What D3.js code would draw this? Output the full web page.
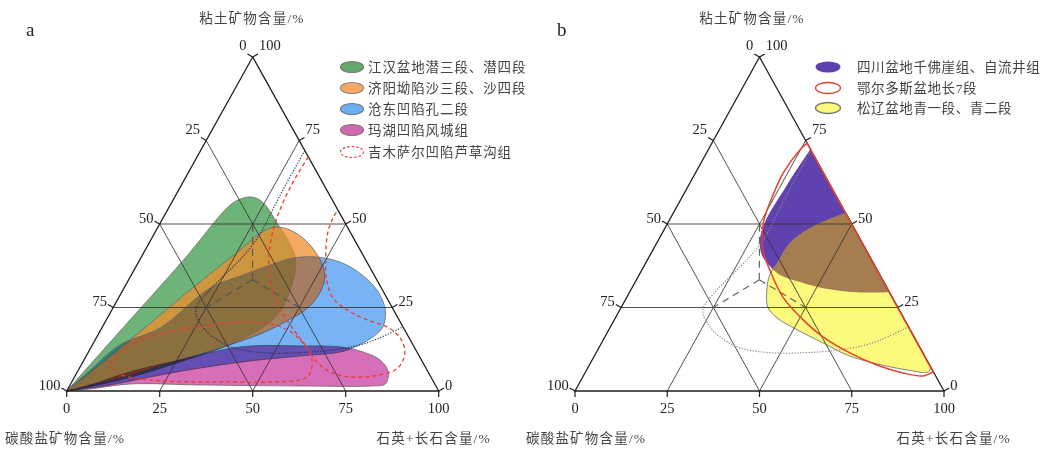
<!DOCTYPE html>
<html><head><meta charset="utf-8">
<script src="https://cdn.jsdelivr.net/npm/d3@7"></script>
<style>body{margin:0;background:#fff}svg{display:block}</style>
</head><body>
<svg id="chart" width="1045" height="456"></svg>
<script>
// ---------------- data ----------------
const tickValues = [0, 25, 50, 75, 100];
const gridValues = [25, 50];
const titleTop = "粘土矿物含量/%";
const titleLeft = "碳酸盐矿物含量/%";
const titleRight = "石英+长石含量/%";
const panelLabels = ["a", "b"];
const legendNamesA = ["江汉盆地潜三段、潜四段", "济阳坳陷沙三段、沙四段", "沧东凹陷孔二段", "玛湖凹陷风城组", "吉木萨尔凹陷芦草沟组"];
const legendNamesB = ["四川盆地千佛崖组、自流井组", "鄂尔多斯盆地长7段", "松辽盆地青一段、青二段"];

// every point: [石英+长石 %, 粘土矿物 %]  (碳酸盐 = 100 - both)
const jianghan = [[0,0],[6,20],[12,40],[16,55.5],[18,57.5],[20.3,58.1],[22.7,57.5],[25.9,55.4],[28.9,52.7],[32,49.7],[35.3,46.7],[39.7,42.2],[42.3,38.6],[45,30],[45,22],[39,15.3],[26,8.7],[12.7,3.3],[0,0]];
const jiyang = [[0,0],[9.4,15.3],[18,30.2],[25.5,42.2],[28.7,47.6],[31.4,49.1],[35.9,48.2],[40.6,45.8],[45.4,42.2],[49.4,38.3],[52.5,33.8],[53.3,28.4],[52,24.3],[48.4,20.7],[43.5,17.1],[34.8,12.9],[23.6,8.4],[12.4,3.9],[0,0]];
const cangdong = [[0,0],[3.2,6.3],[7.4,13.8],[15.7,18.9],[23.1,30.8],[30,34.7],[35.8,37.7],[40.9,39.8],[47.2,40.1],[54.2,38.6],[61.1,35.3],[68.3,30.2],[73.5,24.3],[75.4,19.2],[74.2,16.2],[70.9,13.2],[67.7,11.7],[57.5,10.5],[44.8,9],[32.4,6.9],[20.3,4.2],[10.7,1.8],[0,0]];
const mahu = [[0,0],[5.4,1.8],[14.2,5.7],[25.9,9.3],[40,13.2],[56,13.5],[66.9,13.2],[72.8,12],[79.6,9.3],[83.6,5.7],[84.6,2.1],[80.8,1.5],[62,1.5],[34.9,1.8],[16,2.1],[6,0.6],[0,0]];
const jimusarEast = [[29.9,70.1],[29.6,64.7],[29.7,59.6],[30.2,54.2],[31.4,48.2],[34,40.7],[38.1,33.2],[43.9,25.7],[51.2,18.9],[57.2,13.8],[62.1,9.3],[68,5.7],[74,4.2],[81.8,4.8],[85.6,6.9],[85.2,11.4],[81.7,15.9],[76.5,19.2],[70.1,21.3],[63.2,24.3],[57.7,27.8],[53.3,33.2],[49.6,40.1],[46.5,47.3],[45.7,51.8],[45.8,54.2]];
const jimusarWest = [[8,7.8],[10.6,14.4],[19,17.7],[28.6,19.8],[39,20.7],[48.8,18.9],[55.1,15.3],[61.3,9.3],[62.5,4.2],[53.4,2.7],[43.4,2.7],[20.8,3.3],[10.8,5.4]];
const refZone = [[28,72],[28,62],[28.2,54.2],[28.5,47.6],[27.8,42.2],[26.1,37.1],[23,29.3],[22.5,24.3],[25.6,20.4],[31.2,16.2],[38.3,12.9],[48.1,11.4],[57,11.5],[65.5,12.3],[73.5,14.4],[80.8,19.2]];
const zoneCenter = [33.3, 33.3];
const zoneEnds = [[25,50],[25,25],[50,25]];
const sichuan = [[27.6,72.2],[26.6,61.7],[26.2,50.6],[27.5,45.2],[30.3,40.7],[34.1,37.4],[38.2,34.7],[44.7,32.6],[51.8,30.8],[61.6,29.6],[70.3,29.6]];
const songliao = [[46.8,53.3],[41.9,50.6],[38.8,48.2],[36.1,44.3],[35.7,38.6],[35.4,34.7],[36.9,30.2],[39.7,25.1],[43.8,21.9],[51.1,18.3],[60,14.4],[68.3,10.8],[76.6,8.4],[86.9,6.3],[92.9,5.7],[92.8,7.2]];
const ordos = [[25.8,74.2],[24.9,72.2],[23.8,65.3],[24.4,58.1],[25.6,51.2],[28.1,45.2],[29.8,42.2],[34.7,36.2],[42.3,28.1],[49.9,22.2],[59.1,16.2],[68.8,11.4],[77.9,7.8],[86.2,5.4],[92.1,4.5],[94.2,5.7]];

// ---------------- drawing ----------------
const svg = d3.select("#chart");
svg.append("rect").attr("width", 1045).attr("height", 456).attr("fill", "#fff");
const defs = svg.append("defs");
const numFont = "'Liberation Serif', serif";
const txtFont = "'Liberation Serif','Noto Sans CJK SC',serif";

function panel(range) {
  const X = d3.scaleLinear().domain([0, 100]).range(range);
  const Y = d3.scaleLinear().domain([0, 100]).range([391, 57]);
  const P = d => [X(d[0] + d[1] / 2), Y(d[1])];
  const g = svg.append("g");
  const open = d3.line().curve(d3.curveCatmullRom.alpha(0.5));
  const closed = d3.line().curve(d3.curveCatmullRomClosed.alpha(0.5));
  return {X, Y, P, g, open, closed, region: pts => open(pts.map(P)) + "Z"};
}

function frame(p, opt) {
  const {g, P} = p;
  const segs = [];
  gridValues.forEach(v => {
    segs.push([[0, v], [100 - v, v]]);
    segs.push([[0, 100 - v], [100 - v, 0]]);
    segs.push([[v, 0], [v, 100 - v]]);
  });
  g.append("g").selectAll("line").data(segs).join("line")
    .attr("x1", d => P(d[0])[0]).attr("y1", d => P(d[0])[1])
    .attr("x2", d => P(d[1])[0]).attr("y2", d => P(d[1])[1])
    .attr("stroke", "#333").attr("stroke-opacity", 0.85).attr("stroke-width", 1);
  g.append("path").attr("d", d3.line()([[0,0],[100,0],[0,100]].map(P)) + "Z")
    .attr("fill", "none").attr("stroke", "#1e1e1e").attr("stroke-width", 1.3);
  const BL = P([0,0]), BR = P([100,0]), T = P([0,100]), cen = P(zoneCenter);
  function normal(a, b) {
    const dx = b[0]-a[0], dy = b[1]-a[1], L = Math.hypot(dx, dy);
    let n = [dy/L, -dx/L];
    const m = [(a[0]+b[0])/2, (a[1]+b[1])/2];
    if ((cen[0]-m[0])*n[0] + (cen[1]-m[1])*n[1] > 0) n = [-n[0], -n[1]];
    return n;
  }
  const nL = normal(BL, T), nR = normal(BR, T), nB = [0, 1];
  const len = 6;
  const ticks = [];
  tickValues.forEach(t => {
    ticks.push({side: "b", v: t, p: P([t, 0]), n: nB, c: 0});
    ticks.push({side: "l", v: t, p: P([0, 100 - t]), n: nL, c: 100 - t});
    ticks.push({side: "r", v: t, p: P([100 - t, t]), n: nR, c: t});
  });
  g.append("g").selectAll("line").data(ticks).join("line")
    .attr("x1", d => d.p[0]).attr("y1", d => d.p[1])
    .attr("x2", d => d.p[0] + d.n[0]*len).attr("y2", d => d.p[1] + d.n[1]*len)
    .attr("stroke", "#1e1e1e").attr("stroke-width", 1.2);
  g.append("g").selectAll("text").data(ticks).join("text")
    .attr("x", d => d.side === "b" ? d.p[0] : d.p[0] + d.n[0]*len + (d.side === "l" ? -1 : 1))
    .attr("y", d => d.side === "b" ? 413 : d.p[1] + d.n[1]*len + (d.c >= 75 ? -4 : 1.5))
    .attr("text-anchor", d => d.side === "b" ? "middle" : d.side === "l" ? "end" : "start")
    .attr("font-family", numFont).attr("font-size", 14.5).attr("fill", "#222")
    .text(d => d.v);
  g.append("text").attr("x", opt.topX).attr("y", 23).attr("text-anchor", "middle")
    .attr("font-family", txtFont).attr("font-size", 13.5).attr("letter-spacing", 1.2).attr("fill", "#444").text(titleTop);
  g.append("text").attr("x", opt.leftX).attr("y", 443)
    .attr("font-family", txtFont).attr("font-size", 13.5).attr("letter-spacing", 1.2).attr("fill", "#444").text(titleLeft);
  g.append("text").attr("x", opt.rightX).attr("y", 443).attr("text-anchor", "end")
    .attr("font-family", txtFont).attr("font-size", 13.5).attr("letter-spacing", 1.2).attr("fill", "#444").text(titleRight);
  g.append("text").attr("x", opt.labelX).attr("y", 36)
    .attr("font-family", numFont).attr("font-size", 19).attr("fill", "#222").text(opt.label);
}

function zoneLines(p, color, dotColor) {
  const {g, P} = p;
  g.append("g").selectAll("line").data(zoneEnds).join("line")
    .attr("x1", P(zoneCenter)[0]).attr("y1", P(zoneCenter)[1])
    .attr("x2", d => P(d)[0]).attr("y2", d => P(d)[1])
    .attr("stroke", color).attr("stroke-width", 1.2).attr("stroke-dasharray", "7,5");
  g.append("path").attr("d", p.open(refZone.map(P)))
    .attr("fill", "none").attr("stroke", dotColor).attr("stroke-width", 1.2).attr("stroke-dasharray", "1.2,1.6");
}

// ---------- panel a ----------
const A = panel([66.7, 438.7]);
const colA = {
  green: "rgb(110,180,120)", orange: "rgb(241,138,42)", blue: "rgb(120,180,245)",
  blueOverOrange: "rgb(172,188,252)", pink: "rgb(215,110,185)"
};
const orangePath = A.region(jiyang);
defs.append("clipPath").attr("id", "inOrange").append("path").attr("d", orangePath);
const m = defs.append("mask").attr("id", "outOrange").attr("maskUnits", "userSpaceOnUse")
  .attr("x", 0).attr("y", 0).attr("width", 1045).attr("height", 456);
m.append("rect").attr("width", 1045).attr("height", 456).attr("fill", "#fff");
m.append("path").attr("d", orangePath).attr("fill", "#000");

A.g.append("path").attr("d", A.region(jianghan)).attr("fill", colA.green).attr("stroke", "#6a6a6a").attr("stroke-width", 0.8);
A.g.append("path").attr("d", orangePath).attr("fill", colA.orange).attr("fill-opacity", 0.73).attr("stroke", "#6a6a6a").attr("stroke-width", 0.8);
const bluePath = A.region(cangdong);
A.g.append("path").attr("d", bluePath).attr("fill", colA.blue).attr("mask", "url(#outOrange)").style("mix-blend-mode", "multiply");
A.g.append("path").attr("d", bluePath).attr("fill", colA.blueOverOrange).attr("clip-path", "url(#inOrange)").style("mix-blend-mode", "multiply");
A.g.append("path").attr("d", bluePath).attr("fill", "none").attr("stroke", "#6a6a6a").attr("stroke-width", 0.8);
A.g.append("path").attr("d", A.region(mahu)).attr("fill", colA.pink).attr("stroke", "#6a6a6a").attr("stroke-width", 0.8).style("mix-blend-mode", "multiply");
frame(A, {topX: 252, leftX: 5, rightX: 491, labelX: 26, label: panelLabels[0]});
zoneLines(A, "#555", "#2a2f55");
A.g.append("path").attr("d", A.open(jimusarEast.map(A.P))).attr("fill", "none").attr("stroke", "#ea3b2e").attr("stroke-width", 1.3).attr("stroke-dasharray", "4,3");
A.g.append("path").attr("d", A.closed(jimusarWest.map(A.P))).attr("fill", "none").attr("stroke", "#ea3b2e").attr("stroke-width", 1.3).attr("stroke-dasharray", "4,3");

const legA = A.g.append("g");
const swA = [
  {fill: "rgb(100,168,110)", stroke: "#777", dash: null},
  {fill: "rgb(245,168,98)", stroke: "#888", dash: null},
  {fill: "rgb(108,174,242)", stroke: "#777", dash: null},
  {fill: "rgb(208,104,178)", stroke: "#777", dash: null},
  {fill: "#fff", stroke: "#ea3b2e", dash: "2.5,2"}
];
const rowYA = [67, 88, 109, 130, 152];
legendNamesA.forEach((name, i) => {
  legA.append("ellipse").attr("cx", 352).attr("cy", rowYA[i]).attr("rx", 11.5).attr("ry", 5.5)
    .attr("fill", swA[i].fill).attr("stroke", swA[i].stroke).attr("stroke-width", 1.1)
    .attr("stroke-dasharray", swA[i].dash);
  legA.append("text").attr("x", 368).attr("y", rowYA[i] + 5)
    .attr("font-family", txtFont).attr("font-size", 13.5).attr("letter-spacing", 0.9).attr("fill", "#444").text(name);
});

// ---------- panel b ----------
const B = panel([575, 944]);
const colB = {purple: "rgb(95,66,176)", yellow: "rgb(252,250,125)", brown: "rgb(165,125,80)", red: "#e8402f"};
B.g.append("path").attr("d", B.region(sichuan)).attr("fill", colB.purple);
defs.append("clipPath").attr("id", "clipYellow").append("path").attr("d", B.region(songliao));
B.g.append("path").attr("d", B.region(songliao)).attr("fill", colB.yellow).attr("stroke", "#777").attr("stroke-width", 0.9);
B.g.append("path").attr("d", B.region(sichuan)).attr("fill", colB.brown).attr("clip-path", "url(#clipYellow)");
frame(B, {topX: 752, leftX: 526, rightX: 1011, labelX: 557, label: panelLabels[1]});
zoneLines(B, "#666", "#888");
B.g.append("path").attr("d", B.region(ordos)).attr("fill", "none").attr("stroke", colB.red).attr("stroke-width", 1.5);

const legB = B.g.append("g");
const swB = [
  {fill: colB.purple, stroke: "none"},
  {fill: "#fff", stroke: colB.red},
  {fill: colB.yellow, stroke: "#777"}
];
const rowYB = [67, 88, 108];
legendNamesB.forEach((name, i) => {
  legB.append("ellipse").attr("cx", 828).attr("cy", rowYB[i]).attr("rx", 12.5).attr("ry", 5.5)
    .attr("fill", swB[i].fill).attr("stroke", swB[i].stroke).attr("stroke-width", 1.3);
  legB.append("text").attr("x", 857).attr("y", rowYB[i] + 5)
    .attr("font-family", txtFont).attr("font-size", 13.5).attr("letter-spacing", 0.6).attr("fill", "#444").text(name);
});
</script>
</body></html>
